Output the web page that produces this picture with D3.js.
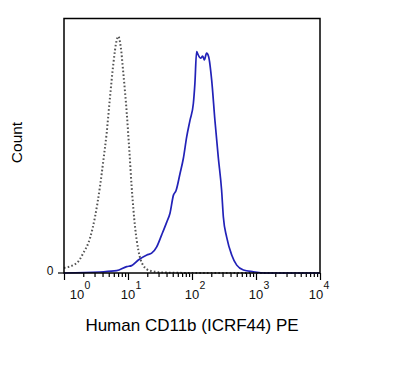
<!DOCTYPE html>
<html><head><meta charset="utf-8">
<script src="https://cdn.jsdelivr.net/npm/d3@7"></script>
<style>body{margin:0;background:#fff}svg{display:block}text{font-family:"Liberation Sans",Arial,sans-serif}</style>
</head><body><svg id="c" width="395" height="375"></svg>
<script>
// Isotype control (dotted) - intensity values and counts (% of max scale)
const isoX = [1, 1.58, 2.0, 2.55, 3.05, 3.65, 4.11, 4.64, 5.23, 5.89, 6.66, 7.05, 7.69, 8.45, 9.55, 10.5, 11.4, 12.9, 14.5, 17.3, 22, 35, 133, 1000, 10000];
const isoY = [2, 3.9, 7.8, 13.7, 22, 34, 44, 55, 69, 82, 91.5, 93, 89, 78.5, 63, 48, 34, 18, 9, 3, 0.9, 0.2, 0, 0, 0];
// CD11b stained (blue)
const cdX = [1, 3.65, 6.66, 9.55, 11.4, 14.5, 19.7, 23.4, 28.1, 33.6, 40.3, 45.3, 51.3, 56.2, 64.9, 73.2, 82.6, 93, 105, 111, 118, 125, 136, 147, 156, 169, 182, 203, 228, 257, 290, 309, 348, 417, 500, 635, 907, 1375, 10000];
const cdY = [0, 0.4, 0.9, 2.5, 2.9, 5.1, 7.1, 7.8, 10.3, 15, 20, 23.5, 30.6, 32.3, 39, 45, 53.5, 60, 66.6, 74.5, 87, 85.7, 84.4, 85.2, 83.7, 86.4, 85, 75.8, 60, 45.6, 32.6, 22, 14.1, 7.1, 3.1, 1.2, 0.5, 0, 0];
const majorTicks = [1, 10, 100, 1000, 10000];
const majorExp = ["0", "1", "2", "3", "4"];
const yTicks = [0];
const xTitle = "Human CD11b (ICRF44) PE";
const yTitle = "Count";

const svg = d3.select("#c");
const L = 64, R = 320, T = 18.5, B = 273;
const x = d3.scaleLog().domain([1, 10000]).range([L, R]);
const y = d3.scaleLinear().domain([0, 100]).range([B, T]);

// minor ticks
const minor = [];
for (let d = 1; d < 10000; d *= 10) for (let k = 2; k <= 9; k++) minor.push(d * k);
const gx = svg.append("g").attr("transform", `translate(0,${B})`);
gx.call(d3.axisBottom(x).tickValues(minor).tickSize(4).tickFormat(""));
gx.append("g").call(d3.axisBottom(x).tickValues(majorTicks).tickSize(7).tickFormat(""));
gx.selectAll(".domain").remove();
gx.selectAll("line").attr("stroke", "#000").attr("stroke-width", 1.2);

// major labels with superscripts
const labOff = [13, 0, 0, 0, -4];
majorTicks.forEach((v, i) => {
  const t = svg.append("text").attr("x", x(v) + labOff[i]).attr("y", 299)
    .attr("font-size", 13).attr("text-anchor", "middle").attr("fill", "#111");
  t.append("tspan").text("10");
  svg.append("text").attr("x", x(v) + labOff[i] + 7.5).attr("y", 289)
    .attr("font-size", 10.5).attr("fill", "#111").text(majorExp[i]);
});

// y tick
yTicks.forEach(v => {
  svg.append("line").attr("x1", L - 6).attr("x2", L).attr("y1", y(v)).attr("y2", y(v)).attr("stroke", "#000").attr("stroke-width", 1.2);
  svg.append("text").attr("x", 53.5).attr("y", y(v) + 1.5).attr("text-anchor", "end").attr("font-size", 12).attr("fill", "#111").text(v);
});

const line = d3.line().x(d => x(d[0])).y(d => y(d[1])).curve(d3.curveMonotoneX);
svg.append("path").datum(isoX.map((v, i) => [v, isoY[i]])).attr("d", line)
  .attr("fill", "none").attr("stroke", "#555").attr("stroke-width", 2).attr("stroke-dasharray", "1.6,2.2");
svg.append("path").datum(cdX.map((v, i) => [v, cdY[i]])).attr("d", line)
  .attr("fill", "none").attr("stroke", "#2222b8").attr("stroke-width", 1.7);

// frame
svg.append("rect").attr("x", L).attr("y", T).attr("width", R - L).attr("height", B - T)
  .attr("fill", "none").attr("stroke", "#000").attr("stroke-width", 1.5);

svg.append("text").attr("x", 192).attr("y", 331).attr("text-anchor", "middle").attr("font-size", 17).attr("fill", "#000").text(xTitle);
svg.append("text").attr("transform", "translate(22,142.5) rotate(-90)").attr("text-anchor", "middle").attr("font-size", 15.5).attr("fill", "#000").text(yTitle);
</script></body></html>
